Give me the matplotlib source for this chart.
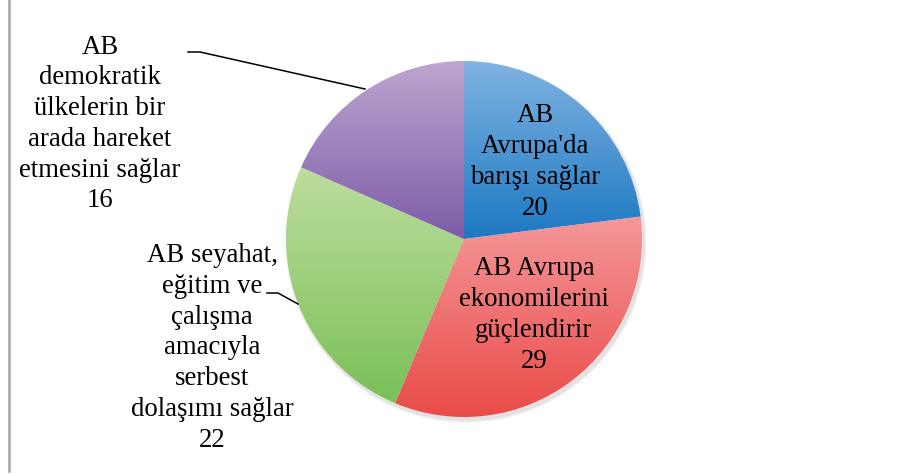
import numpy as np
import matplotlib
matplotlib.use("Agg")
import matplotlib.pyplot as plt
from matplotlib.colors import LinearSegmentedColormap
from matplotlib.patches import Circle

categories = [
    "AB\nAvrupa'da\nbarışı sağlar",
    "AB Avrupa\nekonomilerini\ngüçlendirir",
    "AB seyahat,\neğitim ve\nçalışma\namacıyla\nserbest\ndolaşımı sağlar",
    "AB\ndemokratik\nülkelerin bir\narada hareket\netmesini sağlar",
]
values = [20, 29, 22, 16]
top_colors = ["#80b3e2", "#f5979a", "#bddd9e", "#bea6d0"]
bottom_colors = ["#1c78c2", "#e94b48", "#7ac058", "#7d5ca8"]

W, H = 907, 475
fig = plt.figure(figsize=(W / 100, H / 100), dpi=100)
ax = fig.add_axes([0, 0, 1, 1])
ax.set_xlim(0, W)
ax.set_ylim(0, H)
ax.axis("off")

cx, cy, r = 464, H - 239, 178

# shadow
for i, a in enumerate([0.04, 0.06, 0.08]):
    ax.add_patch(Circle((cx + 2, cy - 3), r + 3 - i, color="#555555", alpha=a, lw=0, zorder=0))

wedges, _ = ax.pie(values, startangle=90, counterclock=False, center=(cx, cy),
                   radius=r, wedgeprops=dict(linewidth=0, edgecolor="none"))
ax.set_xlim(0, W)
ax.set_ylim(0, H)
ax.set_aspect("equal")

grad = np.linspace(0, 1, 256).reshape(-1, 1)
renderer = fig.canvas.get_renderer()
inv = ax.transData.inverted()
for w, tc, bc in zip(wedges, top_colors, bottom_colors):
    w.set_facecolor("none")
    bb = w.get_window_extent(renderer)
    (x0, y0), (x1, y1) = inv.transform([[bb.x0, bb.y0], [bb.x1, bb.y1]])
    cmap = LinearSegmentedColormap.from_list("g", [tc, bc])
    im = ax.imshow(grad, cmap=cmap, extent=[x0, x1, y0, y1], origin="upper",
                   aspect="auto", interpolation="bilinear", zorder=2)
    im.set_clip_path(w)

ax.set_xlim(0, W)
ax.set_ylim(0, H)

# left border line
ax.plot([9, 9], [H - 0, H - 471], color="#a6a6a6", lw=1.8, zorder=1)

font = dict(family=["Liberation Serif", "DejaVu Serif"], size=19.3, color="black",
            ha="center", va="center", linespacing=1.3, zorder=5)

label_pos = [(535, 162), (534, 315), (212, 348), (100, 124)]
for cat, v, (x, y) in zip(categories, values, label_pos):
    ax.text(x, H - y, f"{cat}\n{v}", **font)

# leader lines
ax.plot([188, 200, 365], [H - 52, H - 52, H - 89], color="black", lw=1.1, zorder=4)
ax.plot([267, 278, 298], [H - 293, H - 293, H - 304], color="black", lw=1.1, zorder=4)

fig.savefig("out.png", dpi=100, facecolor="white")
